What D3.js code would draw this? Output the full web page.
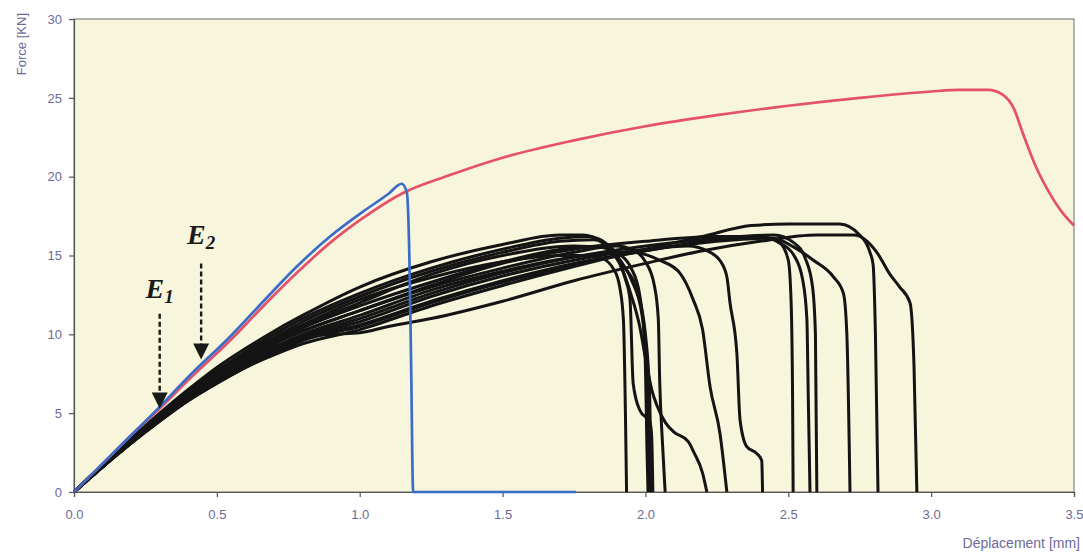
<!DOCTYPE html>
<html><head><meta charset="utf-8">
<script src="https://cdn.jsdelivr.net/npm/d3@7"></script>
<style>
html,body{margin:0;padding:0;background:#fff;}
svg{display:block;}
</style></head>
<body>
<svg id="chart" width="1083" height="552"></svg>
<script>
// ---- tick labels / axis titles ----
const xTicks = [0, 0.5, 1.0, 1.5, 2.0, 2.5, 3.0, 3.5];
const yTicks = [0, 5, 10, 15, 20, 25, 30];
const xTitle = "Déplacement [mm]";
const yTitle = "Force [KN]";

// ---- series: [displacement mm, force kN] ----
const redSeries = [[0,0],[0.1,1.8],[0.2,3.6],[0.3,5.3],[0.4,7.1],[0.546,9.6],[0.663,11.8],[0.78,13.9],[0.896,15.8],[1.013,17.4],[1.15,18.95],[1.316,20.1],[1.5,21.2],[1.75,22.3],[2.0,23.2],[2.25,23.9],[2.5,24.5],[2.75,25.0],[3.0,25.4],[3.1,25.5],[3.2,25.5],[3.25,25.2],[3.29,24.3],[3.32,22.8],[3.37,20.5],[3.41,19.1],[3.46,17.7],[3.5,16.9]];
const blueSeries = [[0,0],[0.1,1.8],[0.2,3.6],[0.3,5.4],[0.4,7.3],[0.546,9.85],[0.663,12.1],[0.78,14.3],[0.896,16.2],[1.013,17.8],[1.1,18.9],[1.147,19.55],[1.165,19.0],[1.174,14.7],[1.18,8],[1.187,0],[1.757,0]];

const black01 = [[0,0],[0.1,1.7],[0.2,3.3],[0.3,4.9],[0.4,6.3],[0.5,7.6],[0.6,8.7],[0.7,9.7],[0.8,10.6],[1.0,12.2],[1.25,13.6],[1.5,14.6],[1.7,15.0],[1.8,15.0],[1.84,14.9],[1.89,14.1],[1.91,13.0],[1.923,10.9],[1.93,5],[1.934,0]];
const black02 = [[0,0],[0.1,1.7],[0.2,3.3],[0.3,4.9],[0.4,6.4],[0.5,7.7],[0.6,8.9],[0.7,10.0],[0.8,11.0],[1.0,12.6],[1.25,14.2],[1.5,15.4],[1.7,16.1],[1.8,16.2],[1.86,15.8],[1.9,15.0],[1.93,13.5],[1.946,12.2],[1.957,6.9],[1.98,5.2],[2.016,4.4],[2.022,3.5],[2.026,0]];
const black03 = [[0,0],[0.1,1.7],[0.2,3.4],[0.3,5.0],[0.4,6.5],[0.5,7.9],[0.6,9.1],[0.7,10.2],[0.8,11.2],[1.0,13.0],[1.25,14.6],[1.5,15.7],[1.7,16.3],[1.78,16.3],[1.85,15.8],[1.9,14.8],[1.95,13.5],[1.99,11],[2.0,8],[2.005,3],[2.009,0]];
const black04 = [[0,0],[0.1,1.6],[0.2,3.2],[0.3,4.7],[0.4,6.1],[0.5,7.4],[0.6,8.5],[0.7,9.5],[0.8,10.4],[1.0,11.8],[1.25,13.3],[1.5,14.6],[1.75,15.5],[1.85,15.6],[1.9,15.2],[1.95,14.2],[1.98,12.5],[2.0,9],[2.01,5],[2.016,0]];
const black05 = [[0,0],[0.1,1.6],[0.2,3.2],[0.3,4.7],[0.4,6.1],[0.5,7.3],[0.6,8.4],[0.7,9.4],[0.8,10.2],[1.0,11.5],[1.25,13.0],[1.5,14.2],[1.75,15.2],[1.9,15.6],[1.95,15.4],[2.0,14.6],[2.03,13.2],[2.045,11],[2.05,7],[2.06,3],[2.069,0]];
const black06 = [[0,0],[0.1,1.7],[0.2,3.3],[0.3,4.8],[0.4,6.2],[0.5,7.5],[0.6,8.6],[0.7,9.6],[0.8,10.5],[1.0,12.0],[1.25,13.8],[1.5,15.0],[1.75,15.6],[1.85,15.5],[1.9,14.8],[1.95,12.5],[1.98,10.5],[2.0,8.5],[2.022,6.5],[2.04,5.5],[2.07,4.4],[2.1,3.8],[2.15,3.2],[2.17,2.5],[2.2,1.2],[2.215,0]];
const black07 = [[0,0],[0.1,1.6],[0.2,3.2],[0.3,4.7],[0.4,6.0],[0.5,7.2],[0.6,8.3],[0.7,9.2],[0.8,10.0],[1.0,11.2],[1.25,12.8],[1.5,14.0],[1.75,14.9],[1.95,15.2],[2.05,14.7],[2.12,13.9],[2.167,12.2],[2.2,10.3],[2.226,6.7],[2.261,3.7],[2.285,0]];
const black08 = [[0,0],[0.1,1.6],[0.2,3.1],[0.3,4.6],[0.4,5.9],[0.5,7.1],[0.6,8.1],[0.7,9.0],[0.8,9.8],[1.0,10.8],[1.25,12.4],[1.5,13.7],[1.75,14.7],[2.0,15.4],[2.15,15.6],[2.215,15.3],[2.26,14.7],[2.285,13.65],[2.296,12.0],[2.32,8.8],[2.331,4.6],[2.354,2.9],[2.389,2.45],[2.407,2.0],[2.41,0]];
const black09 = [[0,0],[0.1,1.6],[0.2,3.1],[0.3,4.6],[0.4,5.9],[0.5,7.0],[0.6,8.0],[0.7,8.9],[0.8,9.7],[1.0,10.6],[1.25,12.1],[1.5,13.4],[1.75,14.5],[2.0,15.3],[2.25,16.0],[2.4,16.2],[2.47,15.8],[2.5,14.7],[2.51,12],[2.515,6],[2.517,0]];
const black10 = [[0,0],[0.1,1.7],[0.2,3.2],[0.3,4.7],[0.4,6.1],[0.5,7.3],[0.6,8.4],[0.7,9.4],[0.8,10.2],[1.0,11.5],[1.25,13.1],[1.5,14.5],[1.75,15.4],[2.0,15.9],[2.25,16.2],[2.4,16.2],[2.47,15.8],[2.52,15.0],[2.55,13.5],[2.565,11],[2.57,6],[2.576,0]];
const black11 = [[0,0],[0.1,1.6],[0.2,3.2],[0.3,4.7],[0.4,6.0],[0.5,7.2],[0.6,8.2],[0.7,9.1],[0.8,9.9],[1.0,11.0],[1.25,12.6],[1.5,13.9],[1.75,14.9],[2.0,15.6],[2.25,16.1],[2.45,16.3],[2.52,15.8],[2.56,14.8],[2.585,13],[2.595,10],[2.6,0]];
const black12 = [[0,0],[0.1,1.6],[0.2,3.1],[0.3,4.5],[0.4,5.8],[0.5,6.9],[0.6,7.9],[0.7,8.8],[0.8,9.6],[1.0,10.5],[1.25,12.0],[1.5,13.3],[1.75,14.4],[2.0,15.3],[2.25,15.9],[2.448,16.1],[2.518,15.55],[2.588,14.7],[2.658,13.65],[2.693,12.6],[2.705,10],[2.716,0]];
const black13 = [[0,0],[0.1,1.6],[0.2,3.1],[0.3,4.5],[0.4,5.8],[0.5,6.9],[0.6,7.9],[0.7,8.7],[0.8,9.4],[1.0,10.3],[1.25,11.8],[1.5,13.1],[1.75,14.3],[2.0,15.4],[2.2,16.2],[2.37,16.9],[2.5,17.0],[2.68,17.0],[2.75,16.3],[2.786,15.2],[2.797,14.4],[2.805,10],[2.814,0]];
const black14 = [[0,0],[0.1,1.6],[0.2,3.1],[0.3,4.5],[0.4,5.8],[0.5,6.9],[0.6,7.9],[0.7,8.8],[0.8,9.8],[0.9,10.0],[1.0,10.1],[1.1,10.5],[1.25,11.0],[1.5,12.1],[1.75,13.4],[2.0,14.5],[2.2,15.3],[2.4,15.9],[2.6,16.3],[2.73,16.3],[2.81,15.2],[2.856,13.8],[2.89,13.0],[2.926,12.0],[2.94,8],[2.95,0]];
const black15 = [[0,0],[0.1,1.7],[0.2,3.3],[0.3,4.9],[0.4,6.3],[0.5,7.6],[0.6,8.8],[0.7,9.8],[0.8,10.8],[1.0,12.4],[1.25,14.0],[1.5,15.2],[1.7,15.9],[1.82,16.0],[1.88,15.4],[1.93,14.2],[1.97,12.8],[2.0,10],[2.015,6],[2.022,0]];
const blackSeries = [black01,black02,black03,black04,black05,black06,black07,black08,black09,black10,black11,black12,black13,black14,black15];

// ---- annotations: label, subscript, x (mm), arrow tip force, arrow top force, label force ----
const annLabels = ["E", "E"];
const annSubs = ["1", "2"];
const annX = [0.30, 0.445];
const annTipF = [5.3, 8.4];
const annTopF = [11.3, 14.5];
const annTextF = [12.3, 15.7];

// ---- layout ----
const W = 1083, H = 552;
const m = {left: 74, right: 9, top: 19, bottom: 60};
const svg = d3.select("#chart");
const x = d3.scaleLinear().domain([0, 3.5]).range([m.left, W - m.right]);
const y = d3.scaleLinear().domain([0, 30]).range([H - m.bottom, m.top]);

// plot background
svg.append("rect")
  .attr("x", x(0)).attr("y", y(30))
  .attr("width", x(3.5) - x(0)).attr("height", y(0) - y(30))
  .attr("fill", "#f7f5dc").attr("stroke", "#6a6a6a").attr("stroke-width", 1);

const tickColor = "#6c6a98";
const font = "'Liberation Sans', Arial, sans-serif";

// axes
const yAxis = d3.axisLeft(y).tickValues(yTicks).tickFormat(d3.format("d")).tickSize(5).tickPadding(7);
const gy = svg.append("g").attr("transform", `translate(${x(0)},0)`).call(yAxis);
const xAxis = d3.axisBottom(x).tickValues(xTicks).tickFormat(d3.format(".1f")).tickSize(5).tickPadding(13);
const gx = svg.append("g").attr("transform", `translate(0,${y(0)})`).call(xAxis);
[gx, gy].forEach(g => {
  g.select(".domain").attr("stroke", "#555").attr("stroke-width", 1.2);
  g.selectAll(".tick line").attr("stroke", "#555").attr("stroke-width", 1.2);
  g.selectAll(".tick text").attr("fill", tickColor).attr("font-size", 13).attr("font-family", font);
});

// titles
svg.append("text").text(yTitle)
  .attr("transform", `translate(26,${m.top - 6}) rotate(-90)`)
  .attr("text-anchor", "end").attr("fill", tickColor)
  .attr("font-size", 13).attr("font-family", font);
svg.append("text").text(xTitle)
  .attr("x", W - 3).attr("y", H - 4)
  .attr("text-anchor", "end").attr("fill", tickColor)
  .attr("font-size", 14).attr("font-family", font);

// lines
const line = d3.line().x(d => x(d[0])).y(d => y(d[1])).curve(d3.curveMonotoneX);
const gLines = svg.append("g");
blackSeries.forEach(s => {
  gLines.append("path").datum(s).attr("d", line)
    .attr("fill", "none").attr("stroke", "#141414").attr("stroke-width", 3)
    .attr("stroke-linejoin", "round");
});
gLines.append("path").datum(redSeries).attr("d", line)
  .attr("fill", "none").attr("stroke", "#e5506a").attr("stroke-width", 2.7);
gLines.append("path").datum(blueSeries).attr("d", line)
  .attr("fill", "none").attr("stroke", "#3a6cc8").attr("stroke-width", 2.7);

// annotations
annLabels.forEach((lab, i) => {
  const ax = x(annX[i]);
  const tipY = y(annTipF[i]);
  const topY = y(annTopF[i]);
  svg.append("line")
    .attr("x1", ax).attr("x2", ax).attr("y1", topY).attr("y2", tipY - 15)
    .attr("stroke", "#1a1a1a").attr("stroke-width", 2.4).attr("stroke-dasharray", "5,3");
  svg.append("path")
    .attr("d", `M${ax - 8},${tipY - 16} L${ax + 8},${tipY - 16} L${ax},${tipY} Z`)
    .attr("fill", "#1a1a1a");
  const t = svg.append("text")
    .attr("x", ax).attr("y", y(annTextF[i]))
    .attr("text-anchor", "middle")
    .attr("font-family", "'Liberation Serif', 'Times New Roman', serif")
    .attr("font-style", "italic").attr("font-weight", "bold")
    .attr("fill", "#1a1a1a").attr("font-size", 28);
  t.append("tspan").text(lab);
  t.append("tspan").text(annSubs[i]).attr("font-size", 19).attr("dy", 5);
});
</script>
</body></html>
